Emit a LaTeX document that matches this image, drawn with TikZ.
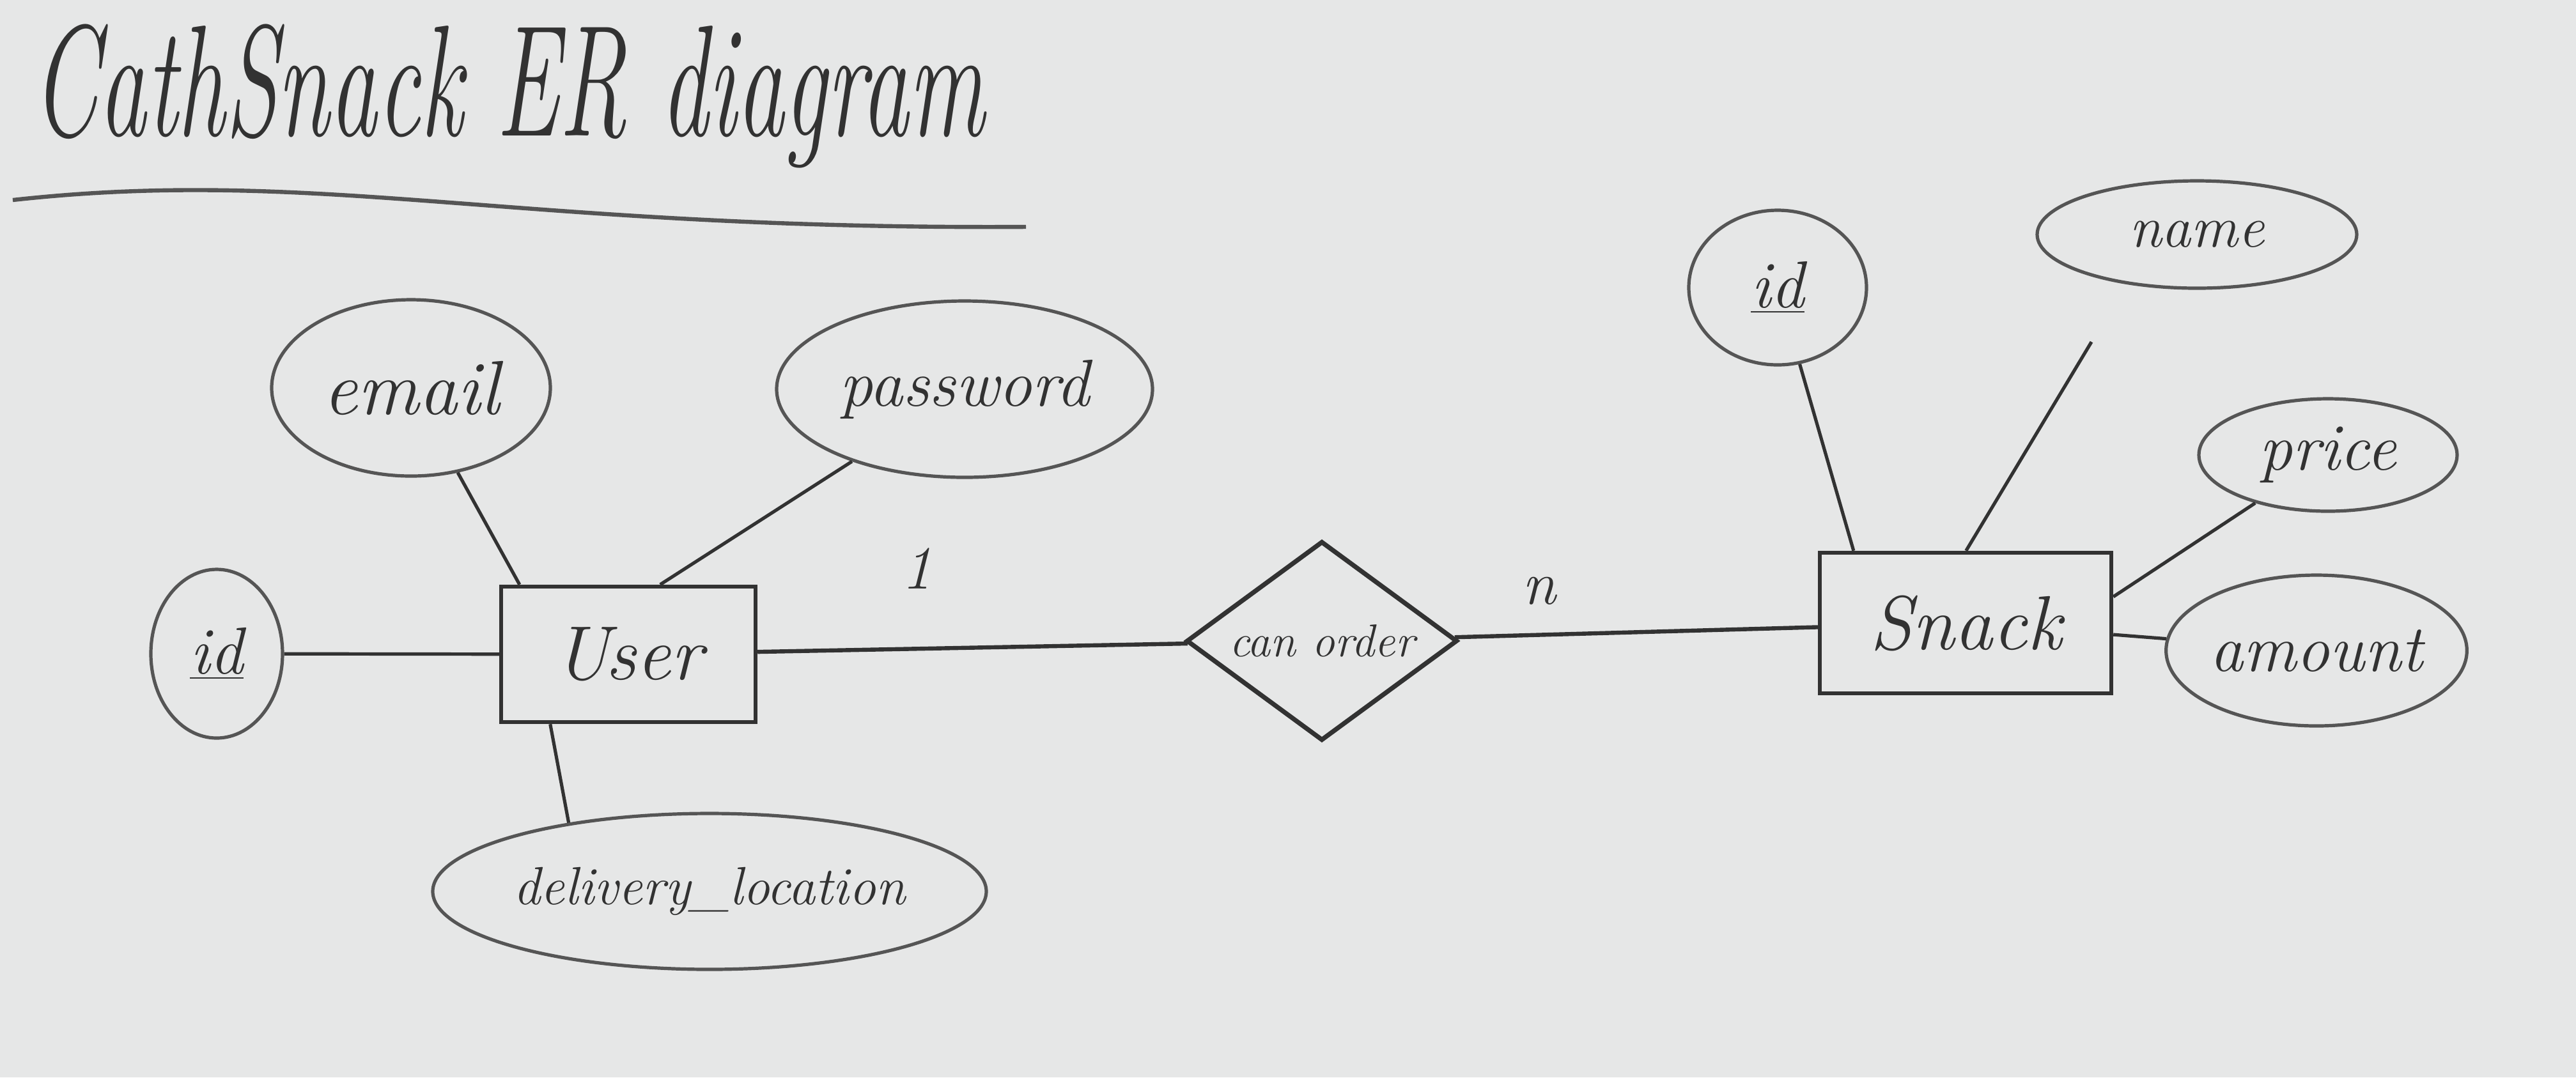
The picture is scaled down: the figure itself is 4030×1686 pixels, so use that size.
\documentclass[tikz,border=0pt]{standalone}
\usepackage{fontspec}
\usetikzlibrary{shapes.geometric}
\definecolor{paper}{RGB}{230,231,231}
\definecolor{pencil}{RGB}{50,50,50}
\definecolor{pencillight}{RGB}{85,85,85}
\tikzset{
  entity/.style={draw=pencil, line width=1.6pt, rectangle, inner sep=0pt, font=\itshape\fontsize{30}{34}\selectfont, text=pencil},
  attr/.style={draw=pencillight, line width=1.3pt, ellipse, inner sep=0pt, text=pencil, font=\itshape\fontsize{26}{30}\selectfont},
  rel/.style={draw=pencil, line width=1.8pt, diamond, inner sep=0pt, text=pencil, font=\itshape\fontsize{18}{22}\selectfont},
  conn/.style={draw=pencil, line width=1.3pt},
  card/.style={text=pencil, font=\itshape\fontsize{24}{28}\selectfont}
}
\begin{document}
\begin{tikzpicture}[x=0.25pt,y=-0.25pt]
\fill[paper] (0,0) rectangle (4030,1686);
\useasboundingbox (0,0) rectangle (4030,1686);
% title
\node[text=pencil, font=\itshape\fontsize{62}{70}\selectfont, anchor=west, inner sep=0pt] (title) at (50,150) {\scalebox{0.6}[1]{CathSnack ER diagram}};
\coordinate (ul1) at (20,313);
\coordinate (ul2) at (1605,355);
\draw[draw=pencillight, line width=1.6pt] (ul1) .. controls (500,260) and (800,360) .. (ul2);
% entities
\node[entity, minimum width=99.5pt, minimum height=53pt] (user) at (983,1024) {User};
\node[entity, minimum width=114pt, minimum height=55pt] (snack) at (3075,975) {Snack};
\node[rel, minimum width=106pt, minimum height=78pt, aspect=1.36] (order) at (2068,1003) {can order};
% user attributes
\node[attr, minimum width=51.5pt, minimum height=66pt] (uid) at (339,1023) {\underline{id}};
\node[attr, minimum width=109pt, minimum height=69pt, font=\itshape\fontsize{30}{34}\selectfont] (email) at (643,607) {email};
\node[attr, minimum width=147pt, minimum height=69pt] (password) at (1509,609) {password};
\node[attr, minimum width=188pt, minimum height=61pt, font=\itshape\fontsize{21}{25}\selectfont] (delivery) at (1110,1395) {delivery\_location};
% snack attributes
\node[attr, minimum width=69.5pt, minimum height=60.5pt] (sid) at (2781,450) {\underline{id}};
\node[attr, minimum width=125pt, minimum height=42pt, font=\itshape\fontsize{23}{27}\selectfont] (name) at (3437,367) {name};
\node[attr, minimum width=101pt, minimum height=44pt] (price) at (3642,712) {price};
\node[attr, minimum width=103pt, minimum height=59pt] (amount) at (3624,1018) {amount};
\coordinate (nameend) at (3272,535);
% connectors
\draw[conn] (uid) -- (user);
\draw[conn] (email) -- ([xshift=8pt]user.north west);
\draw[conn] (password) -- ([xshift=63pt]user.north west);
\draw[conn] ([xshift=20pt]user.south west) -- (delivery.154);
\draw[conn, line width=1.6pt] (user) -- (order);
\draw[conn, line width=1.6pt] (order) -- (snack);
\draw[conn] (sid) -- ([xshift=14pt]snack.north west);
\draw[conn] (nameend) -- ([xshift=58pt]snack.north west);
\draw[conn] (price) -- ([yshift=-18pt]snack.north east);
\draw[conn] (snack) -- (amount);
% cardinalities
\node[card] (c1) at (1434,890) {1};
\node[card] (cn) at (2408,925) {n};
\end{tikzpicture}
\end{document}
